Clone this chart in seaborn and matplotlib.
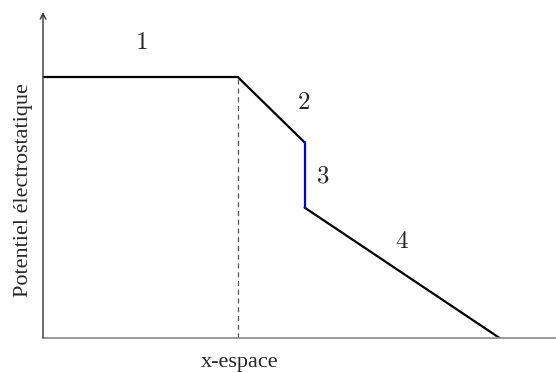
import matplotlib
matplotlib.use("Agg")
import matplotlib.pyplot as plt
import seaborn as sns
import pandas as pd

# Data (arbitrary units)
x_flat = [0.0, 3.8]          # region 1
y_flat = [8.0, 8.0]
x_slope1 = [3.8, 5.1]        # region 2
y_slope1 = [8.0, 6.0]
x_jump = [5.1, 5.1]          # region 3 (blue)
y_jump = [6.0, 4.0]
x_slope2 = [5.1, 8.9]        # region 4
y_slope2 = [4.0, 0.0]
dash_x = [3.8, 3.8]
dash_y = [0.0, 8.0]
region_labels = ["1", "2", "3", "4"]
label_x = [1.91, 5.09, 5.46, 7.0]
label_y = [9.05, 7.2, 4.95, 2.95]

sns.set_style("white")
plt.rcParams["font.family"] = ["Liberation Serif", "DejaVu Serif"]
plt.rcParams["mathtext.fontset"] = "cm"

fig = plt.figure(figsize=(5.56, 3.72), dpi=100)
ax = fig.add_axes([43/556, 34/372, 513/556, 326/372])

def seg(xs, ys, color, **kw):
    df = pd.DataFrame({"x": xs, "y": ys})
    sns.lineplot(data=df, x="x", y="y", sort=False, estimator=None,
                 color=color, ax=ax, **kw)

seg(dash_x, dash_y, "#555555", lw=0.9, linestyle=(0, (4, 3)))
seg(x_flat, y_flat, "black", lw=1.6)
seg(x_slope1, y_slope1, "black", lw=1.6)
seg(x_slope2, y_slope2, "black", lw=1.6)
seg(x_jump, y_jump, "#0000ee", lw=1.6)

for t, lx, ly in zip(region_labels, label_x, label_y):
    ax.text(lx, ly, "$" + t + "$", fontsize=18, ha="center", va="center")

ax.set_xlim(0, 10)
ax.set_ylim(0, 10)
ax.set_xticks([])
ax.set_yticks([])
ax.set_xlabel("")
ax.set_ylabel("")
for s in ["top", "right", "left"]:
    ax.spines[s].set_visible(False)
ax.spines["bottom"].set_color("#888888")
ax.spines["bottom"].set_linewidth(1.2)

ax.annotate("", xy=(0, 1.0), xytext=(0, 0), xycoords="axes fraction",
            textcoords="axes fraction",
            arrowprops=dict(arrowstyle="->", lw=1.0, color="#333333",
                            shrinkA=0, shrinkB=0, mutation_scale=10),
            annotation_clip=False)

fig.text(24/556, 1 - 190/372, "Potentiel électrostatique", rotation=90,
         ha="center", va="center", fontsize=16)
fig.text(240/556, 1 - 362/372, "x-espace", ha="center", va="center",
         fontsize=16)

fig.savefig("out.png", dpi=100, facecolor="white")
